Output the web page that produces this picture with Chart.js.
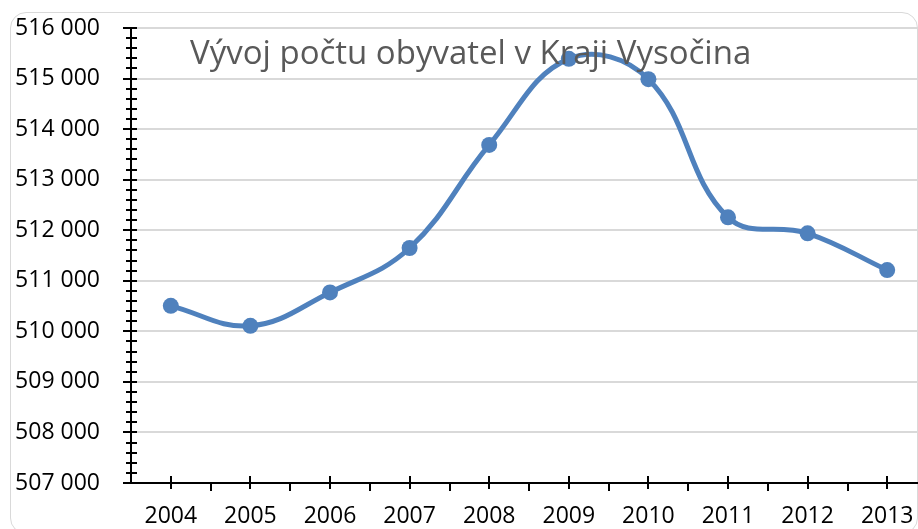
<!DOCTYPE html>
<html>
<head>
<meta charset="utf-8">
<script src="https://cdn.jsdelivr.net/npm/chart.js@4/dist/chart.umd.min.js"></script>
<style>
  html, body { margin: 0; padding: 0; background: #fff; overflow: hidden; }
  #wrap { position: relative; width: 918px; height: 529px; overflow: hidden; }
  #frame {
    position: absolute; left: 10px; top: 12px; width: 906px; height: 520px;
    border: 1.5px solid #d9d9d9; border-radius: 16px;
  }
  #chart { position: absolute; left: 0; top: 0; }
</style>
</head>
<body>
<div id="wrap">
  <div id="frame"></div>
  <canvas id="chart" width="942" height="529"></canvas>
</div>
<script>
// ----- data -----
const chartTitle = 'Vývoj počtu obyvatel v Kraji Vysočina';
const years = ['2004', '2005', '2006', '2007', '2008', '2009', '2010', '2011', '2012', '2013'];
const population = [510505, 510109, 510770, 511648, 513687, 515390, 514988, 512255, 511939, 511212];
const yMin = 507000;
const yMax = 516000;
const yStep = 1000;
const yMinorStep = 200;

const FONT = "'Open Sans', 'Noto Sans', sans-serif";

// format 516000 -> "516 000"
function fmt(v) {
    return String(v).replace(/\B(?=(\d{3})+(?!\d))/g, ' ');
}

// tick marks crossing the axes + title inside the plot
const axisDecor = {
    id: 'axisDecor',
    beforeDatasetsDraw(chart) {
        const { ctx, chartArea, scales } = chart;
        const y = scales.y, x = scales.x;
        ctx.save();
        ctx.strokeStyle = '#000';
        ctx.lineWidth = 2;
        ctx.beginPath();
        // y axis: major + minor ticks
        for (let v = yMin; v <= yMax; v += yMinorStep) {
            const py = Math.round(y.getPixelForValue(v));
            const major = (v - yMin) % yStep === 0;
            ctx.moveTo(chartArea.left - (major ? 8 : 5), py);
            ctx.lineTo(chartArea.left + 6, py);
        }
        // x axis: crossing ticks at categories, short ticks between them
        for (let i = 0; i < years.length; i++) {
            const px = Math.round(x.getPixelForValue(i));
            ctx.moveTo(px, chartArea.bottom - 7);
            ctx.lineTo(px, chartArea.bottom + 6);
            const bx = Math.round(px + (x.getPixelForValue(1) - x.getPixelForValue(0)) / 2);
            ctx.moveTo(bx, chartArea.bottom);
            ctx.lineTo(bx, chartArea.bottom + 8);
        }
        ctx.stroke();
        ctx.restore();
    },
    afterDraw(chart) {
        const ctx = chart.ctx;
        ctx.save();
        ctx.font = '33px ' + FONT;
        ctx.fillStyle = '#595959';
        ctx.textBaseline = 'alphabetic';
        ctx.fillText(chartTitle, 190, 64);
        ctx.restore();
    }
};

new Chart(document.getElementById('chart'), {
    type: 'line',
    data: {
        labels: years,
        datasets: [{
            data: population,
            borderColor: '#4f81bd',
            backgroundColor: '#4f81bd',
            borderWidth: 5,
            pointRadius: 8,
            pointBorderWidth: 0,
            pointBackgroundColor: '#4f81bd',
            tension: 0.4,
            fill: false
        }]
    },
    options: {
        responsive: false,
        animation: false,
        layout: { padding: { left: 0, top: 28, right: 15, bottom: 0 } },
        plugins: {
            legend: { display: false },
            tooltip: { enabled: false },
            title: { display: false }
        },
        scales: {
            x: {
                offset: true,
                grid: { display: false, drawTicks: false },
                border: { display: true, color: '#000', width: 2 },
                ticks: {
                    color: '#000',
                    font: { family: FONT, size: 23 },
                    padding: 20,
                    maxRotation: 0
                },
                afterFit(scale) { scale.height = 46; }
            },
            y: {
                min: yMin,
                max: yMax,
                grid: { color: '#d9d9d9', lineWidth: 2, drawTicks: false },
                border: { display: true, color: '#000', width: 2 },
                ticks: {
                    stepSize: yStep,
                    color: '#000',
                    font: { family: FONT, size: 23 },
                    padding: 31,
                    callback: (v) => fmt(v)
                },
                afterFit(scale) {
                    scale.width = 131;
                    scale.paddingTop = 0;
                    scale.paddingBottom = 0;
                }
            }
        }
    },
    plugins: [axisDecor]
});
</script>
</body>
</html>
